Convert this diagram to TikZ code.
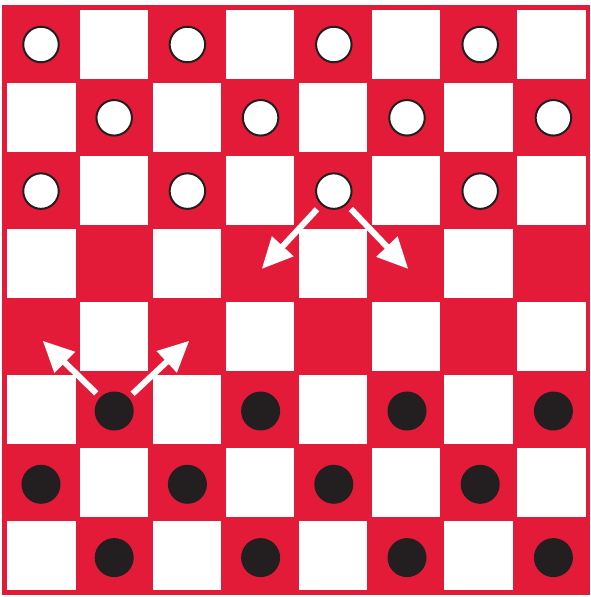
\documentclass[tikz,border=0pt]{standalone}
\usetikzlibrary{arrows.meta}
\definecolor{boardred}{RGB}{228,27,56}
\definecolor{piecedark}{RGB}{35,31,32}
\begin{document}
\begin{tikzpicture}[x=1pt,y=-1pt,
  wpiece/.style={circle,draw=piecedark,line width=2pt,fill=white,minimum size=35.5pt,inner sep=0pt},
  bpiece/.style={circle,fill=piecedark,minimum size=39pt,inner sep=0pt},
  movearrow/.style={draw=white,line width=6pt,-{Triangle[width=28pt,length=31pt]}}]
\useasboundingbox (0,0) rectangle (591,597);
\fill[boardred] (2,5) rectangle (590,595);
\foreach \r in {0,...,7}{\foreach \c in {0,...,7}{
  \pgfmathtruncatemacro\odd{mod(\r+\c,2)}
  \ifnum\odd=1 \fill[white] ({7+72.9*\c},{10+73*\r}) rectangle ++(68.5,69); \fi}}
\foreach \r/\c in {0/0,0/2,0/4,0/6,1/1,1/3,1/5,1/7,2/0,2/2,2/4,2/6}
  \node[wpiece] (w\r\c) at ({41+73.2*\c},{44.5+73.3*\r}) {};
\foreach \r/\c in {5/1,5/3,5/5,5/7,6/0,6/2,6/4,6/6,7/1,7/3,7/5,7/7}
  \node[bpiece] (b\r\c) at ({41+73.2*\c},{44.5+73.3*\r}) {};
\coordinate (t1) at (261.7,269);
\coordinate (t2) at (408.3,269);
\coordinate (t3) at (42.7,340.7);
\coordinate (t4) at (189.3,340.7);
\draw[movearrow,shorten <=6pt] (w24) -- (t1);
\draw[movearrow,shorten <=6pt] (w24) -- (t2);
\draw[movearrow,shorten <=5.5pt] (b51) -- (t3);
\draw[movearrow,shorten <=5.5pt] (b51) -- (t4);
\end{tikzpicture}
\end{document}
